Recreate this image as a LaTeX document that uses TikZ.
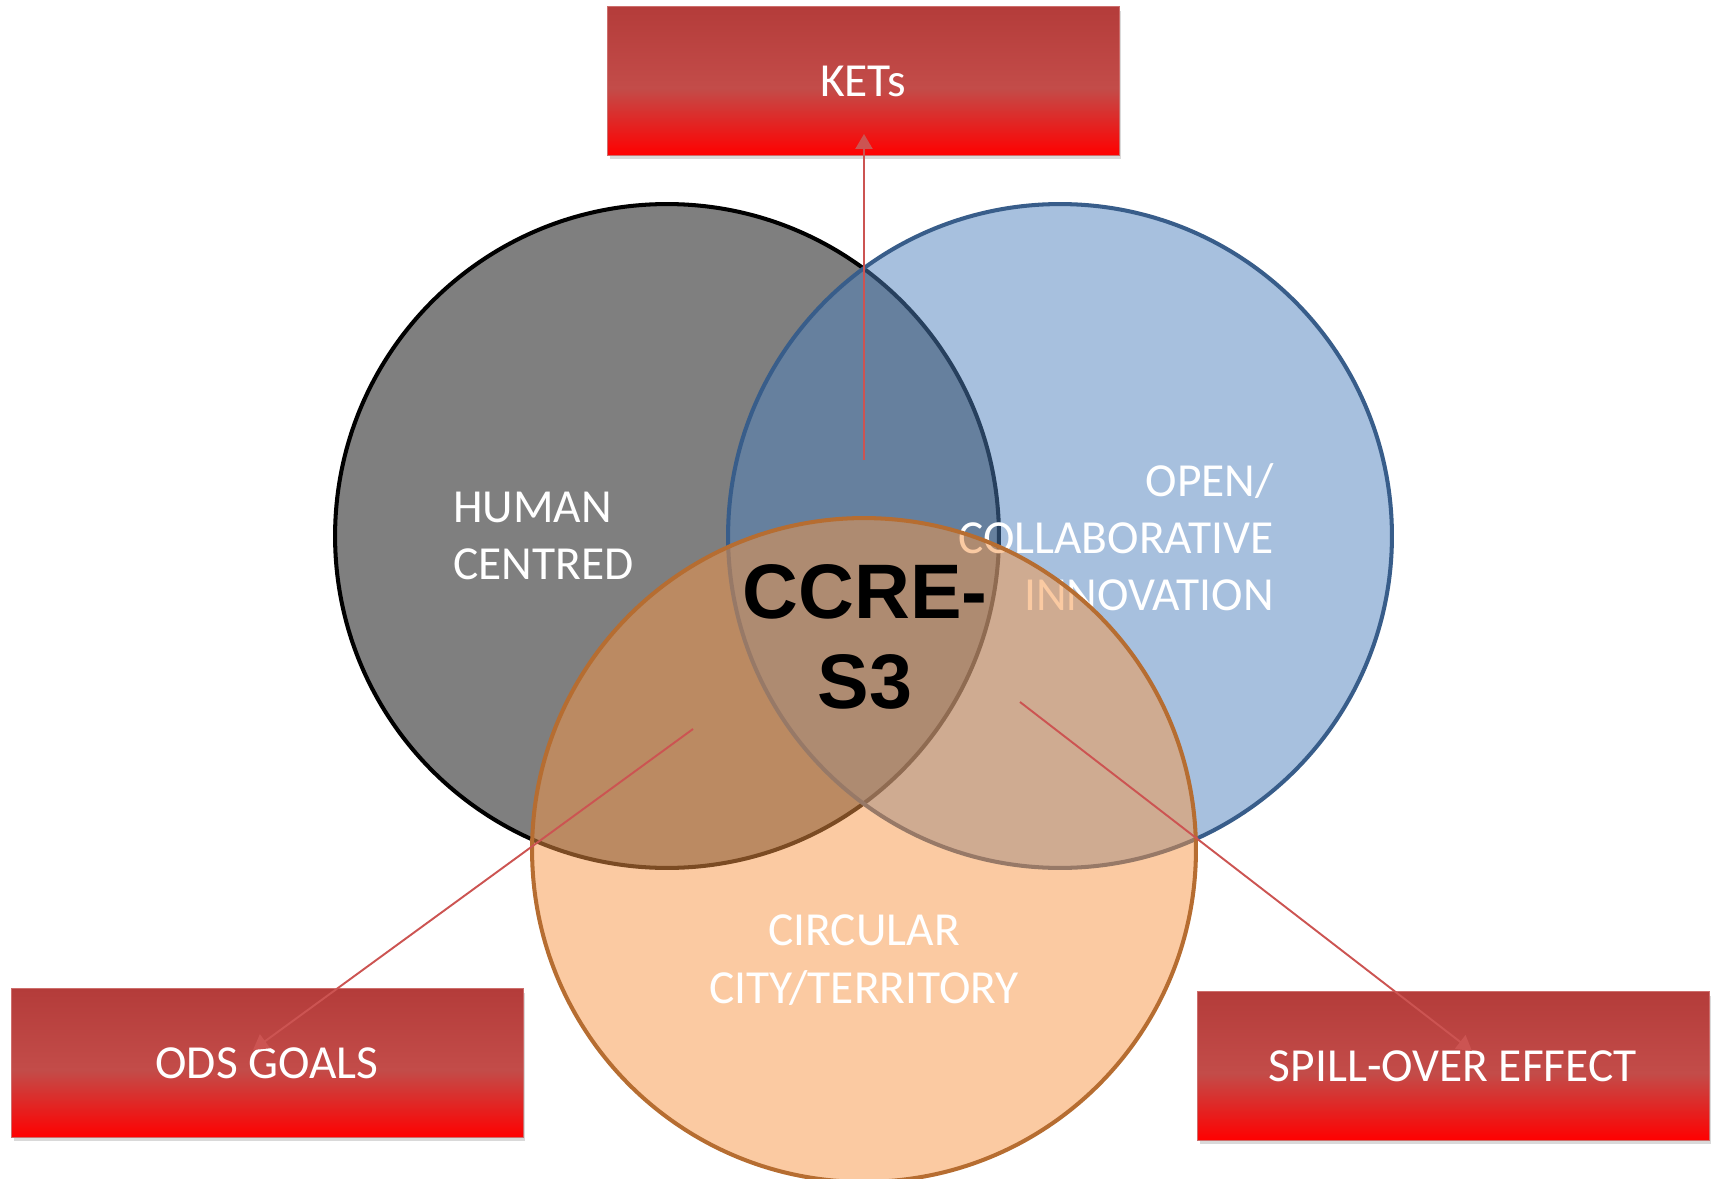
\documentclass[tikz,border=0pt]{standalone}
\usepackage{fontspec}
\setmainfont{Carlito}
\newfontfamily\headfont{Liberation Sans}
\definecolor{humangray}{RGB}{127, 127, 127}
\definecolor{openblue}{RGB}{79, 129, 189}
\definecolor{openedge}{RGB}{56, 93, 138}
\definecolor{circorange}{RGB}{247, 150, 70}
\definecolor{circedge}{RGB}{182, 109, 49}
\definecolor{linkred}{RGB}{204, 84, 82}
\definecolor{boxtop}{RGB}{180, 60, 58}
\definecolor{boxmid}{RGB}{195, 76, 73}
\definecolor{boxedge}{RGB}{205, 110, 108}
\usetikzlibrary{arrows.meta, shadows}

% dark red on top, lighter band past the middle, pure red at the bottom
\pgfdeclareverticalshading{redboxshade}{100bp}{color(0bp)=(red); color(25bp)=(red);
  color(47.5bp)=(boxmid); color(75bp)=(boxtop); color(100bp)=(boxtop)}

\tikzset{
  venn/.style={circle, minimum size=13.28cm, inner sep=0pt, line width=2.3pt},
  venntext/.style={text=white, inner sep=0pt, font=\fontsize{27}{32.6}\selectfont},
  redbox/.style={rectangle, minimum width=10.24cm, minimum height=2.98cm, inner sep=0pt,
    shade, shading=redboxshade, draw=boxedge, line width=0.5pt,
    text=white, font=\fontsize{27}{32.6}\selectfont,
    drop shadow={shadow xshift=0.05cm, shadow yshift=-0.08cm, opacity=0.3}},
  link/.style={draw=linkred, line width=1.1pt, -{Triangle[length=8.5pt, width=9.7pt]}}
}

\begin{document}
\begin{tikzpicture}[x=0.02cm, y=-0.02cm]
  \useasboundingbox (0,0) rectangle (1717,1179);

  % Three circles, each one laid over the last
  \node[venn, fill=humangray, draw=black] (human) at (667, 536) {};
  \node[venntext, anchor=west, align=left] (humanlbl) at (453, 536) {HUMAN\\CENTRED};

  \node[venn, fill=openblue, fill opacity=0.5, draw=openedge] (open) at (1060, 536) {};
  \node[venntext, anchor=east, align=right] (openlbl) at (1274, 537) {OPEN/\\COLLABORATIVE\\INNOVATION};

  \node[venn, fill=circorange, fill opacity=0.5, draw=circedge] (circular) at (864, 850) {};
  \node[venntext, align=center] (circlbl) at (864, 960) {CIRCULAR\\CITY/TERRITORY};

  % Centre label
  \node[inner sep=0pt, align=center, font=\headfont\bfseries\fontsize{44}{51}\selectfont] (ccre) at (865, 637) {CCRE-\\S3};

  % Outer boxes
  \node[redbox] (kets) at (863, 81) {KETs};
  \node[redbox] (ods) at (267, 1063) {ODS GOALS};
  \node[redbox] (spill) at (1453, 1066) {SPILL-OVER EFFECT};

  % Links out of the centre
  \coordinate (ketsfrom) at (864, 460);
  \coordinate (ketsto) at (864, 134);
  \coordinate (odsfrom) at (693, 729);
  \coordinate (odsto) at (253, 1050);
  \coordinate (spillfrom) at (1020, 702);
  \coordinate (spillto) at (1472, 1051);
  \draw[link] (ketsfrom) -- (ketsto);
  \draw[link] (odsfrom) -- (odsto);
  \draw[link] (spillfrom) -- (spillto);
\end{tikzpicture}
\end{document}
